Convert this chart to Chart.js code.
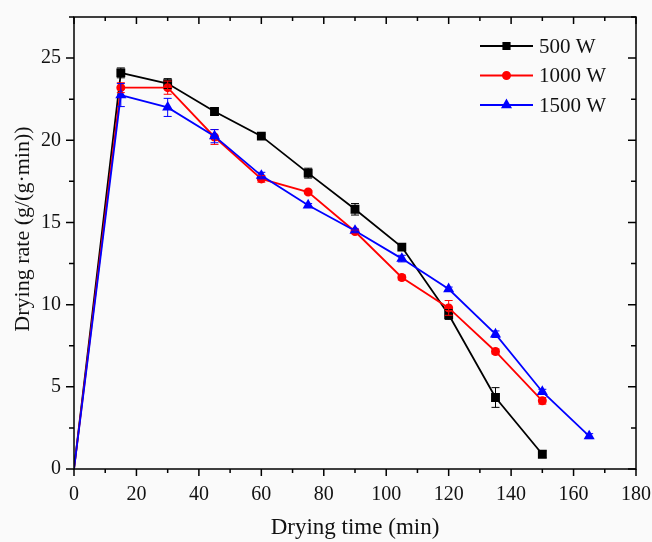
<!DOCTYPE html>
<html>
<head>
<meta charset="utf-8">
<script src="https://cdn.jsdelivr.net/npm/chart.js@4.4.1/dist/chart.umd.min.js"></script>
<style>
  html, body { margin: 0; padding: 0; background: #fafafa; }
  #wrap { width: 652px; height: 542px; }
</style>
</head>
<body>
<div id="wrap"><canvas id="rateChart"></canvas></div>
<script>
// drying time (min)
const time500 = [0, 15, 30, 45, 60, 75, 90, 105, 120, 135, 150];
const time1000 = [0, 15, 30, 45, 60, 75, 90, 105, 120, 135, 150];
const time1500 = [0, 15, 30, 45, 60, 75, 90, 105, 120, 135, 150, 165];

// drying rate g/(g·min)
const rate500 = [0, 24.1, 23.45, 21.75, 20.25, 18.0, 15.8, 13.5, 9.4, 4.35, 0.9];
const rate1000 = [0, 23.2, 23.2, 20.2, 17.65, 16.85, 14.45, 11.65, 9.8, 7.15, 4.15];
const rate1500 = [0, 22.75, 22.0, 20.25, 17.85, 16.05, 14.5, 12.8, 10.95, 8.2, 4.7, 2.0];

// error bars (±)
const err500 = [0, 0.3, 0.3, 0.2, 0.12, 0.3, 0.35, 0.12, 0.3, 0.6, 0.2];
const err1000 = [0, 0.3, 0.4, 0.45, 0.2, 0.1, 0.1, 0.15, 0.45, 0.15, 0.2];
const err1500 = [0, 0.7, 0.55, 0.4, 0.2, 0.1, 0.1, 0.2, 0.12, 0.2, 0.15, 0.15];

const seriesNames = ['500 W', '1000 W', '1500 W'];
const xTicks = [0, 20, 40, 60, 80, 100, 120, 140, 160, 180];
const yTicks = [0, 5, 10, 15, 20, 25];
const yTitle = 'Drying rate (g/(g·min))';

const serif = "'Liberation Serif', 'Times New Roman', serif";

function toPoints(xs, ys) {
    return xs.map((x, i) => ({ x: x, y: ys[i] }));
}
function radii(n, r) {
    let a = Array(n).fill(r);
    a[0] = 0; // no marker at origin
    return a;
}
function noPad(s) {
    s.paddingTop = 0; s.paddingBottom = 0;
    s.paddingLeft = 0; s.paddingRight = 0;
}

const errors = [err500, err1000, err1500];

// error bars, frame, mirrored ticks, y title and legend
const decoPlugin = {
    id: 'deco',
    beforeDraw(chart) {
        const c = chart.ctx;
        c.save();
        c.fillStyle = '#fafafa';
        c.fillRect(0, 0, chart.width, chart.height);
        c.restore();
    },
    afterDatasetsDraw(chart) {
        const c = chart.ctx;
        const xs = chart.scales.x, ys = chart.scales.y;
        c.save();
        chart.data.datasets.forEach((ds, di) => {
            c.strokeStyle = ds.borderColor;
            c.lineWidth = 1;
            ds.data.forEach((p, i) => {
                let e = errors[di][i];
                if (!e) return;
                let px = xs.getPixelForValue(p.x);
                let y1 = ys.getPixelForValue(p.y + e);
                let y2 = ys.getPixelForValue(p.y - e);
                c.beginPath();
                c.moveTo(px, y1); c.lineTo(px, y2);
                c.moveTo(px - 4, y1); c.lineTo(px + 4, y1);
                c.moveTo(px - 4, y2); c.lineTo(px + 4, y2);
                c.stroke();
            });
        });
        c.restore();
    },
    afterDraw(chart) {
        const c = chart.ctx;
        const a = chart.chartArea;
        const xs = chart.scales.x, ys = chart.scales.y;
        c.save();
        c.strokeStyle = '#000';
        c.lineWidth = 1.5;
        c.strokeRect(a.left, a.top, a.right - a.left, a.bottom - a.top);

        c.beginPath();
        for (let v = 0; v <= 180; v += 10) {
            let px = xs.getPixelForValue(v);
            let len = (v % 20 === 0) ? 7 : 4;
            c.moveTo(px, a.bottom); c.lineTo(px, a.bottom + len);
            c.moveTo(px, a.top); c.lineTo(px, a.top + len);
        }
        for (let v = 0; v <= 27.5; v += 2.5) {
            let py = ys.getPixelForValue(v);
            let len = (v % 5 === 0) ? 8 : 5;
            c.moveTo(a.left, py); c.lineTo(a.left - len, py);
            c.moveTo(a.right, py); c.lineTo(a.right - len, py);
        }
        c.stroke();

        // y axis title
        c.save();
        c.translate(23, 229);
        c.rotate(-Math.PI / 2);
        c.fillStyle = '#111';
        c.font = '22px ' + serif;
        c.textAlign = 'center';
        c.textBaseline = 'middle';
        c.fillText(yTitle, 0, 0);
        c.restore();

        // legend
        const rowY = [46, 75.5, 105];
        chart.data.datasets.forEach((ds, di) => {
            let y = rowY[di];
            c.strokeStyle = ds.borderColor;
            c.lineWidth = 1.8;
            c.beginPath();
            c.moveTo(480, y); c.lineTo(533, y);
            c.stroke();
            Chart.helpers.drawPoint(c, {
                pointStyle: ds.pointStyle,
                radius: ds.legendRadius,
                borderWidth: 1
            }, 506.5, y);
            c.fillStyle = ds.borderColor;
            c.fill();
            c.fillStyle = '#111';
            c.font = '21px ' + serif;
            c.textBaseline = 'middle';
            c.textAlign = 'left';
            c.fillText(ds.label, 539, y + 1);
        });
        c.restore();
    }
};

document.addEventListener('DOMContentLoaded', function () {
    let ctx = document.getElementById('rateChart').getContext('2d');
    let rateChart = new Chart(ctx, {
        type: 'line',
        data: {
            datasets: [
                {
                    label: seriesNames[0],
                    data: toPoints(time500, rate500),
                    borderColor: '#000000',
                    backgroundColor: '#000000',
                    pointStyle: 'rect',
                    pointRadius: radii(time500.length, 5),
                    legendRadius: 4.5,
                    borderWidth: 1.8,
                    order: 2
                },
                {
                    label: seriesNames[1],
                    data: toPoints(time1000, rate1000),
                    borderColor: '#ff0000',
                    backgroundColor: '#ff0000',
                    pointStyle: 'circle',
                    pointRadius: radii(time1000.length, 3.6),
                    legendRadius: 3.6,
                    borderWidth: 1.8,
                    order: 1
                },
                {
                    label: seriesNames[2],
                    data: toPoints(time1500, rate1500),
                    borderColor: '#0000ff',
                    backgroundColor: '#0000ff',
                    pointStyle: 'triangle',
                    pointRadius: radii(time1500.length, 4.6),
                    legendRadius: 4.6,
                    borderWidth: 1.8,
                    order: 0
                }
            ]
        },
        options: {
            responsive: true,
            maintainAspectRatio: false,
            animation: false,
            layout: { padding: { top: 17, right: 16, left: 0, bottom: 0 } },
            plugins: {
                legend: { display: false },
                tooltip: { enabled: false }
            },
            scales: {
                x: {
                    type: 'linear',
                    min: 0,
                    max: 180,
                    grid: { display: false, drawTicks: false },
                    border: { display: false },
                    afterBuildTicks: (s) => { s.ticks = xTicks.map(v => ({ value: v })); },
                    afterFit: (s) => { s.height = 73; noPad(s); },
                    ticks: {
                        padding: 14,
                        color: '#111',
                        maxRotation: 0,
                        font: { family: serif, size: 20 }
                    },
                    title: {
                        display: true,
                        text: 'Drying time (min)',
                        color: '#111',
                        font: { family: serif, size: 23 },
                        padding: { top: 0, bottom: 0 }
                    }
                },
                y: {
                    type: 'linear',
                    min: 0,
                    max: 27.5,
                    grid: { display: false, drawTicks: false },
                    border: { display: false },
                    afterBuildTicks: (s) => { s.ticks = yTicks.map(v => ({ value: v })); },
                    afterFit: (s) => { s.width = 74; noPad(s); },
                    ticks: {
                        padding: 13,
                        color: '#111',
                        font: { family: serif, size: 20 }
                    },
                    title: { display: false }
                }
            }
        },
        plugins: [decoPlugin]
    });
});
</script>
</body>
</html>
